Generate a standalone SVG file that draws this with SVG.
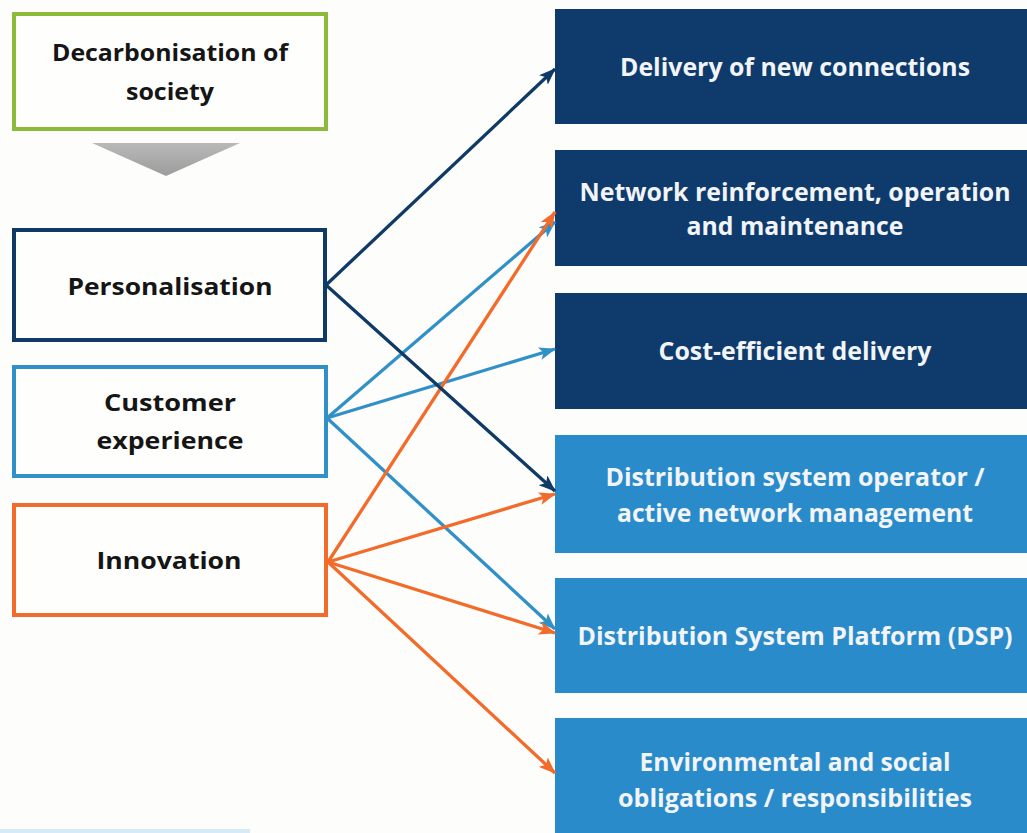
<svg xmlns="http://www.w3.org/2000/svg" width="1027" height="833" viewBox="0 0 1027 833">
  <style>
    .frame { fill: #fefefd; stroke-width: 4; }
    .left-label { font-family: "Open Sans", "Liberation Sans", sans-serif; font-weight: 700; font-size: 24px; fill: #151515; text-anchor: middle; }
    .right-label { font-family: "Open Sans", "Liberation Sans", sans-serif; font-weight: 700; font-size: 25px; fill: #f2f4f7; text-anchor: middle; }
    .navy { fill: #0e3b6c; }
    .sky { fill: #2a8bcb; }
    .link { fill: none; stroke-width: 3.3; }
    .link-navy { stroke: #0f3a66; }
    .link-sky { stroke: #3190c8; }
    .link-orange { stroke: #f26b2a; }
  </style>
  <defs>
    <marker id="head-navy" markerUnits="userSpaceOnUse" markerWidth="17" markerHeight="13" refX="16" refY="6.5" orient="auto">
      <path d="M0,0 L17,6.5 L0,13 L4,6.5 z" fill="#0f3a66"/>
    </marker>
    <marker id="head-sky" markerUnits="userSpaceOnUse" markerWidth="17" markerHeight="13" refX="16" refY="6.5" orient="auto">
      <path d="M0,0 L17,6.5 L0,13 L4,6.5 z" fill="#3190c8"/>
    </marker>
    <marker id="head-orange" markerUnits="userSpaceOnUse" markerWidth="17" markerHeight="13" refX="16" refY="6.5" orient="auto">
      <path d="M0,0 L17,6.5 L0,13 L4,6.5 z" fill="#f26b2a"/>
    </marker>
    <linearGradient id="chevron-fill" x1="0" y1="0" x2="0" y2="1">
      <stop offset="0" stop-color="#b9b9b9"/>
      <stop offset="1" stop-color="#9c9c9c"/>
    </linearGradient>
  </defs>

  <rect x="0" y="0" width="1027" height="833" fill="#fdfdfb"/>
  <rect x="0" y="829" width="250" height="4" fill="#d6eaf7"/>

  <!-- left column -->
  <g id="node-decarbonisation">
    <rect class="frame" x="14" y="14" width="312" height="115" stroke="#8cbb3c"/>
    <text class="left-label" x="170" y="61" textLength="236" lengthAdjust="spacingAndGlyphs">Decarbonisation of</text>
    <text class="left-label" x="170" y="100" textLength="88" lengthAdjust="spacingAndGlyphs">society</text>
  </g>
  <g id="down-chevron">
    <polygon points="92,143 240,143 166,176" fill="url(#chevron-fill)"/>
  </g>
  <g id="node-personalisation">
    <rect class="frame" x="14" y="230" width="311" height="110" stroke="#0f3a66"/>
    <text class="left-label" x="170" y="295" textLength="205" lengthAdjust="spacingAndGlyphs">Personalisation</text>
  </g>
  <g id="node-customer">
    <rect class="frame" x="14" y="367" width="312" height="109" stroke="#3190c8"/>
    <text class="left-label" x="170" y="411" textLength="132" lengthAdjust="spacingAndGlyphs">Customer</text>
    <text class="left-label" x="170" y="449" textLength="147" lengthAdjust="spacingAndGlyphs">experience</text>
  </g>
  <g id="node-innovation">
    <rect class="frame" x="14" y="505" width="312" height="110" stroke="#f26b2a"/>
    <text class="left-label" x="169" y="569" textLength="145" lengthAdjust="spacingAndGlyphs">Innovation</text>
  </g>

  <!-- right column -->
  <g id="node-new-connections">
    <rect class="navy" x="555" y="9" width="472" height="115"/>
    <text class="right-label" x="795" y="76" textLength="350" lengthAdjust="spacingAndGlyphs">Delivery of new connections</text>
  </g>
  <g id="node-reinforcement">
    <rect class="navy" x="555" y="150" width="472" height="116"/>
    <text class="right-label" x="795" y="201" textLength="431" lengthAdjust="spacingAndGlyphs">Network reinforcement, operation</text>
    <text class="right-label" x="795" y="235" textLength="217" lengthAdjust="spacingAndGlyphs">and maintenance</text>
  </g>
  <g id="node-cost-efficient">
    <rect class="navy" x="555" y="293" width="472" height="116"/>
    <text class="right-label" x="795" y="360" textLength="273" lengthAdjust="spacingAndGlyphs">Cost-efficient delivery</text>
  </g>
  <g id="node-dso">
    <rect class="sky" x="555" y="435" width="472" height="118"/>
    <text class="right-label" x="795" y="486" textLength="379" lengthAdjust="spacingAndGlyphs">Distribution system operator /</text>
    <text class="right-label" x="795" y="522" textLength="356" lengthAdjust="spacingAndGlyphs">active network management</text>
  </g>
  <g id="node-dsp">
    <rect class="sky" x="555" y="578" width="472" height="115"/>
    <text class="right-label" x="795" y="645" textLength="435" lengthAdjust="spacingAndGlyphs">Distribution System Platform (DSP)</text>
  </g>
  <g id="node-environment">
    <rect class="sky" x="555" y="718" width="472" height="115"/>
    <text class="right-label" x="795" y="771" textLength="311" lengthAdjust="spacingAndGlyphs">Environmental and social</text>
    <text class="right-label" x="795" y="807" textLength="354" lengthAdjust="spacingAndGlyphs">obligations / responsibilities</text>
  </g>

  <!-- connectors -->
  <g id="connectors">
    <line class="link link-sky" x1="327" y1="418" x2="555" y2="222" marker-end="url(#head-sky)"/>
    <line class="link link-sky" x1="327" y1="418" x2="555" y2="349" marker-end="url(#head-sky)"/>
    <line class="link link-sky" x1="327" y1="418" x2="555" y2="629" marker-end="url(#head-sky)"/>
    <line class="link link-orange" x1="328" y1="562" x2="555" y2="212" marker-end="url(#head-orange)"/>
    <line class="link link-orange" x1="328" y1="562" x2="555" y2="494" marker-end="url(#head-orange)"/>
    <line class="link link-orange" x1="328" y1="562" x2="555" y2="633" marker-end="url(#head-orange)"/>
    <line class="link link-orange" x1="328" y1="562" x2="555" y2="773" marker-end="url(#head-orange)"/>
    <line class="link link-navy" x1="326" y1="285" x2="555" y2="69" marker-end="url(#head-navy)"/>
    <line class="link link-navy" x1="326" y1="285" x2="555" y2="491" marker-end="url(#head-navy)"/>
  </g>
</svg>
